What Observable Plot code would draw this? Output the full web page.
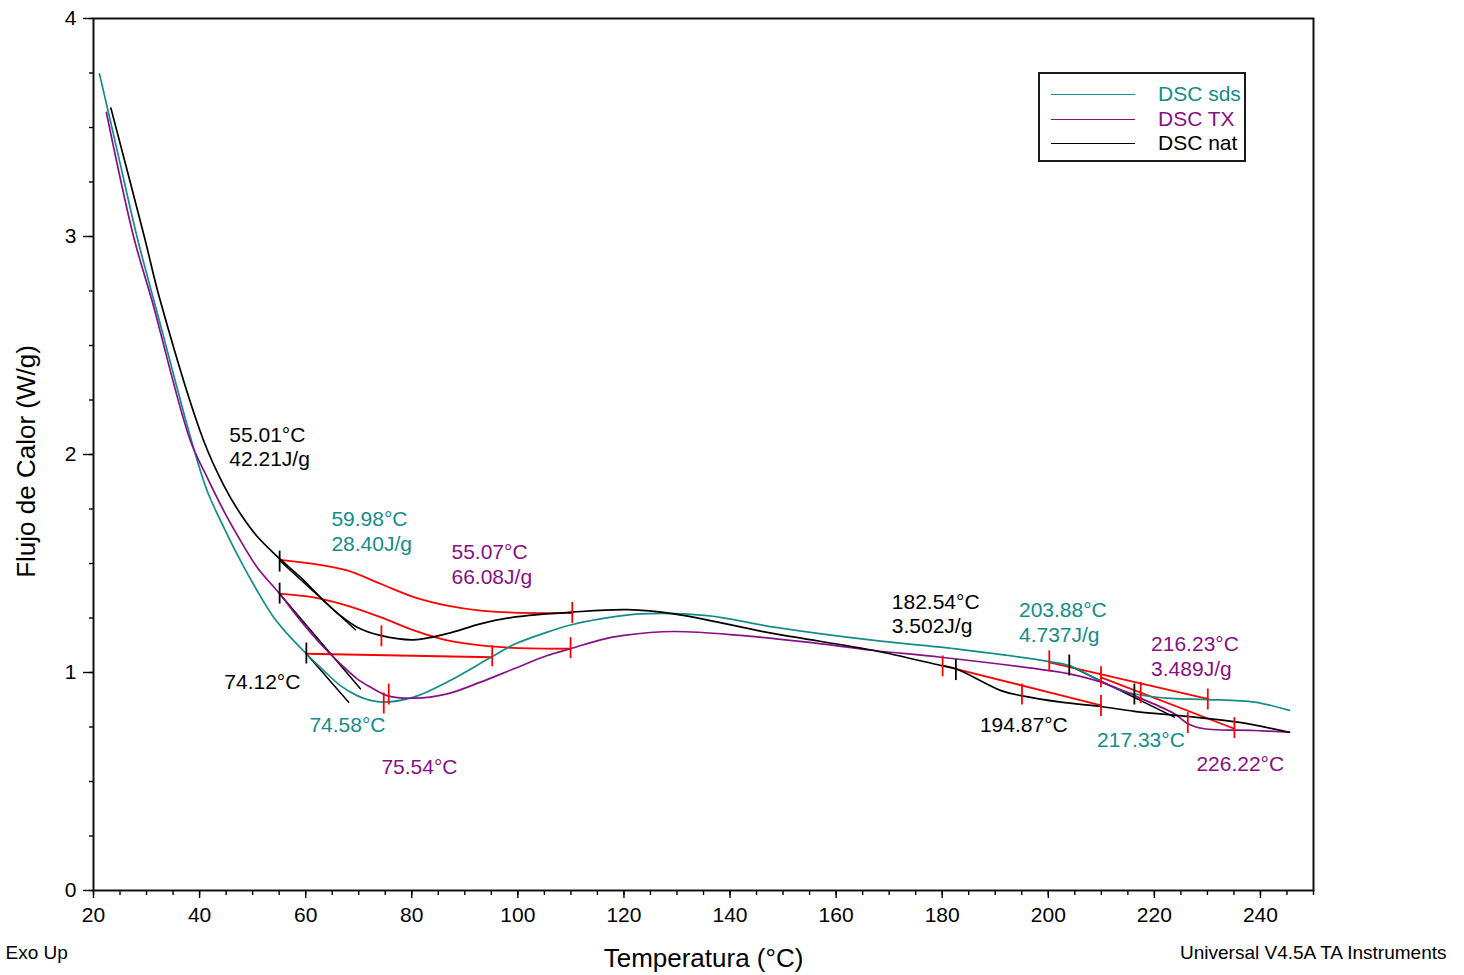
<!DOCTYPE html>
<html>
<head>
<meta charset="utf-8">
<script src="https://cdn.jsdelivr.net/npm/d3@7"></script>
<script src="https://cdn.jsdelivr.net/npm/@observablehq/plot@0.6"></script>
<style>
  html, body { margin: 0; padding: 0; background: #fff; }
  #wrap { position: relative; width: 1464px; height: 975px; font-family: "Liberation Sans", Arial, sans-serif; }
  #legend { position: absolute; left: 1038px; top: 72px; width: 204px; height: 86px; border: 2px solid #1a1a1a; background: #fff; }
  .lg-line { position: absolute; left: 11px; width: 84px; height: 0; }
  .lg-text { position: absolute; left: 118px; font-size: 21px; line-height: 24px; white-space: nowrap; }
</style>
</head>
<body>
<div id="wrap"></div>
<script>
// ---------- data (Temperatura °C, Flujo de Calor W/g) ----------
const seriesNames = ["DSC sds", "DSC TX", "DSC nat"];
const seriesColors = ["#138c8c", "#870f87", "#000000"];

const sds = [
  [21.13,3.746],[24.47,3.394],[28.19,3.000],[32.40,2.615],[38.62,2.050],[41.40,1.835],
  [44.53,1.667],[47.68,1.514],[50.83,1.376],[53.96,1.254],[57.11,1.162],[60.13,1.086],
  [63.40,1.009],[66.55,0.940],[69.70,0.894],[72.21,0.872],[74.72,0.864],[80.38,0.887],
  [86.68,0.956],[95.17,1.073],[99.25,1.128],[105.55,1.185],[110.13,1.219],[115.60,1.246],
  [123.15,1.269],[135.74,1.261],[148.30,1.208],[167.17,1.147],[179.75,1.116],[200.19,1.050],
  [203.90,1.032],[209.94,0.960],[213.70,0.918],[216.87,0.899],[223.10,0.881],[230.07,0.876],
  [238.87,0.864],[245.47,0.826]
];
const tx = [
  [22.42,3.570],[27.55,3.000],[31.02,2.706],[38.25,2.064],[41.40,1.896],[44.53,1.743],
  [47.68,1.606],[50.83,1.483],[55.09,1.361],[59.00,1.239],[63.40,1.116],[66.55,1.040],
  [69.70,0.971],[72.21,0.933],[75.36,0.894],[80.38,0.882],[86.68,0.902],[92.96,0.956],
  [99.25,1.017],[105.55,1.078],[109.94,1.109],[115.60,1.150],[120.00,1.170],[129.43,1.188],
  [142.02,1.170],[154.60,1.139],[167.17,1.101],[179.75,1.070],[200.19,1.009],[203.96,0.994],
  [209.94,0.956],[216.87,0.887],[223.77,0.811],[226.30,0.765],[229.38,0.742],[238.87,0.734],
  [245.47,0.726]
];
const nat = [
  [23.28,3.589],[29.57,3.000],[32.58,2.706],[40.75,2.064],[44.53,1.860],
  [47.70,1.728],[50.83,1.625],[55.09,1.522],[59.00,1.437],[63.40,1.330],[66.55,1.261],
  [69.70,1.208],[74.09,1.170],[80.38,1.150],[86.68,1.178],[92.96,1.223],[99.25,1.254],
  [110.26,1.277],[120.64,1.288],[129.43,1.269],[148.30,1.178],[167.17,1.101],[179.75,1.032],
  [182.58,1.017],[191.08,0.917],[194.85,0.894],[202.40,0.864],[209.94,0.844],[216.23,0.822],
  [227.55,0.795],[235.74,0.772],[245.47,0.726]
];

// integration baselines (red)
const baseNat1 = [[55.23,1.517],[61.5,1.498],[67.8,1.468],[74.1,1.407],[80.4,1.346],[86.7,1.307],[93.0,1.284],[99.2,1.275],[110.26,1.272]];
const baseTx1  = [[55.2,1.361],[61.5,1.345],[67.8,1.307],[74.1,1.254],[80.4,1.193],[86.7,1.147],[93.0,1.124],[99.2,1.113],[109.94,1.109]];
const baseSds1 = [[60.13,1.086],[95.17,1.070]];
const baseNat2 = [[180.08,1.032],[209.94,0.849]];
const baseSds2 = [[200.19,1.047],[230.07,0.879]];
const baseTx2  = [[209.94,0.978],[235.09,0.742]];

// onset tangents (black)
const tangents = [
  [[55.09,1.514],[69.38,1.196]],
  [[55.09,1.361],[70.32,0.925]],
  [[60.13,1.086],[68.11,0.864]],
  [[203.96,1.032],[223.77,0.795]]
];

// tick markers [T, v]
const redMarks = [
  [74.28,1.166],[74.72,0.858],[75.66,0.899],[110.26,1.273],[109.94,1.112],[95.17,1.074],
  [180.08,1.028],[195.04,0.899],[209.94,0.846],[209.94,0.978],[200.19,1.051],[230.07,0.876],
  [217.43,0.906],[226.30,0.768],[235.09,0.745]
];
const blackMarks = [
  [55.09,1.509],[55.09,1.362],[60.13,1.087],[182.58,1.011],[203.96,1.032],[216.23,0.899]
];

// annotation labels [T, v, text, series index]
const labels = [
  [45.60,2.039,"55.01°C\n42.21J/g",2],
  [64.85,1.651,"59.98°C\n28.40J/g",0],
  [87.49,1.498,"55.07°C\n66.08J/g",1],
  [44.66,0.963,"74.12°C",2],
  [60.70,0.766,"74.58°C",0],
  [74.28,0.573,"75.54°C",1],
  [170.50,1.273,"182.54°C\n3.502J/g",2],
  [194.47,1.232,"203.88°C\n4.737J/g",0],
  [219.38,1.080,"216.23°C\n3.489J/g",1],
  [187.11,0.766,"194.87°C",2],
  [209.19,0.693,"217.33°C",0],
  [227.92,0.587,"226.22°C",1]
];

const xMajor = d3.range(20, 241, 20);
const xMinor = d3.range(20, 251, 5);
const yMajor = [0, 1, 2, 3, 4];
const yMinor = d3.range(0, 4.01, 0.25);

// ---------- chart ----------
const RED = "#ff0000";
const H = 0.048;
const asObj = (arr) => arr.map(([T, v]) => ({T, v}));
const curveData = [sds, tx, nat].flatMap((arr, i) => arr.map(([T, v]) => ({T, v, s: seriesNames[i]})));

const chart = Plot.plot({
  width: 1464,
  height: 975,
  marginLeft: 93,
  marginRight: 151,
  marginTop: 18,
  marginBottom: 85,
  x: {domain: [20, 250]},
  y: {domain: [0, 4]},
  color: {domain: seriesNames, range: seriesColors},
  style: {fontFamily: "'Liberation Sans', Arial, sans-serif", fontSize: "21px", color: "#000", background: "#fff"},
  marks: [
    Plot.axisX({ticks: xMinor, tickSize: 5, tickFormat: () => "", label: null, strokeWidth: 1.4}),
    Plot.axisX({ticks: xMajor, tickSize: 8, tickPadding: 9, label: null, strokeWidth: 1.4, fontSize: 21, tickFormat: d => String(d)}),
    Plot.axisY({ticks: yMinor, tickSize: 4, tickFormat: () => "", label: null, strokeWidth: 1.4}),
    Plot.axisY({ticks: yMajor, tickSize: 10, tickPadding: 7, label: null, strokeWidth: 1.4, fontSize: 21, tickFormat: d => String(d)}),
    Plot.frame({stroke: "#111", strokeWidth: 2}),
    // red baselines
    ...[baseNat1, baseTx1, baseSds1, baseNat2, baseSds2, baseTx2].map(b =>
      Plot.line(asObj(b), {x: "T", y: "v", stroke: RED, strokeWidth: 1.8, curve: "catmull-rom"})),
    // tangents
    ...tangents.map(t => Plot.line(asObj(t), {x: "T", y: "v", stroke: "#000", strokeWidth: 1.5})),
    // curves
    Plot.line(curveData, {x: "T", y: "v", z: "s", stroke: "s", strokeWidth: 1.7, curve: "catmull-rom"}),
    // markers
    Plot.ruleX(asObj(redMarks), {x: "T", y1: d => d.v - H, y2: d => d.v + H, stroke: RED, strokeWidth: 1.8}),
    Plot.ruleX(asObj(blackMarks), {x: "T", y1: d => d.v - H, y2: d => d.v + H, stroke: "#000", strokeWidth: 1.8}),
    // annotation texts
    Plot.text(labels, {x: d => d[0], y: d => d[1], text: d => d[2], fill: d => seriesColors[d[3]],
      textAnchor: "start", lineAnchor: "middle", lineHeight: 1.19, fontSize: 21}),
    // axis titles and footer
    Plot.text(["Temperatura (°C)"], {frameAnchor: "bottom", dy: 68, fontSize: 26, lineAnchor: "middle", textAnchor: "middle"}),
    Plot.text(["Flujo de Calor (W/g)"], {frameAnchor: "left", dx: -67, dy: 7, rotate: -90, fontSize: 26, lineAnchor: "middle", textAnchor: "middle"}),
    Plot.text(["Exo Up"], {frameAnchor: "bottom-left", dx: -88, dy: 62, textAnchor: "start", fontSize: 19, lineAnchor: "middle"}),
    Plot.text(["Universal V4.5A TA Instruments"], {frameAnchor: "bottom-right", dx: 133, dy: 62, textAnchor: "end", fontSize: 19, lineAnchor: "middle"})
  ]
});

const wrap = document.getElementById("wrap");
wrap.appendChild(chart);

// legend
const legend = document.createElement("div");
legend.id = "legend";
seriesNames.forEach((name, i) => {
  const cy = 20 + i * 24.5;
  const ln = document.createElement("div");
  ln.className = "lg-line";
  ln.style.top = cy + "px";
  ln.style.borderTop = "1.7px solid " + seriesColors[i];
  const tx_ = document.createElement("div");
  tx_.className = "lg-text";
  tx_.style.top = (cy - 12) + "px";
  tx_.style.color = seriesColors[i];
  tx_.textContent = name;
  legend.appendChild(ln);
  legend.appendChild(tx_);
});
wrap.appendChild(legend);
</script>
</body>
</html>
